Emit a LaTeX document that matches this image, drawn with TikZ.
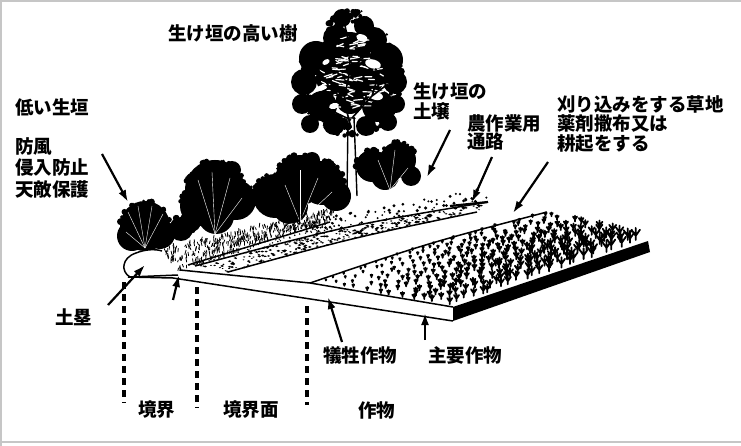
\documentclass[tikz,border=0pt]{standalone}
\usepackage{fontspec}
\setmainfont{Noto Sans CJK JP}
\usetikzlibrary{arrows.meta}

\begin{document}
\begin{tikzpicture}[x=1pt,y=-1pt,
  lbl/.style={inner sep=0pt,anchor=west,font=\fontsize{18.5}{20}\selectfont\bfseries},
  multi/.style={lbl,anchor=north west,align=left},
  pointer/.style={line width=2.2pt,-{Latex[length=12pt,width=8pt]}},
  divider/.style={line width=3.5pt,dash pattern=on 7pt off 5pt},
  edge/.style={line width=1.5pt},
  tuft/.style={line width=1.8pt,line cap=round},
  blade/.style={line width=0.8pt}]
\useasboundingbox (0,0) rectangle (741,446);
\pgfmathsetseed{7}
% frame of the scan
\draw[gray!45,line width=1.5pt] (1,446) -- (1,1) -- (741,1);
\draw[gray!45,line width=1.2pt] (0,442) -- (741,442);

% tall tree
\draw[line width=1.4pt,fill=white] (347,196) -- (348,118) -- (354,118) -- (357,196);
\fill (342,18) circle (9pt) (364,26) circle (10pt) (336,38) circle (13pt) (374,40) circle (13pt)
  (316,58) circle (17pt) (350,52) circle (20pt) (386,60) circle (17pt)
  (304,82) circle (13pt) (334,78) circle (18pt) (366,78) circle (18pt) (395,82) circle (12pt)
  (302,104) circle (10pt) (322,106) circle (15pt) (350,100) circle (14pt) (378,106) circle (16pt) (396,104) circle (9pt)
  (310,124) circle (9pt) (334,124) circle (11pt) (366,126) circle (10pt) (388,122) circle (9pt);
\foreach \k in {1,...,140}{
  \pgfmathsetmacro\ang{360*rnd}
  \pgfmathsetmacro\rr{0.8+0.25*rnd}
  \pgfmathsetmacro\ccx{351+53*\rr*cos(\ang)*(1+0.5*min(sin(\ang),0))}
  \pgfmathsetmacro\ccy{72+62*\rr*sin(\ang)}
  \pgfmathsetmacro\crad{1+3*rnd}
  \fill (\ccx,\ccy) circle (\crad pt);
}
\foreach \gx/\gy/\ga/\gb/\gr in {362/38/6/3.5/-20,373/64/8/4.5/-15,322/88/5/3/10,
  376/96/7/4/-10,334/106/5/3/15,326/62/4/2.5/30}
  \fill[white,rotate around={\gr:(\gx,\gy)}] (\gx,\gy) ellipse (\ga pt and \gb pt);
\foreach \k in {1,...,75}{
  \pgfmathsetmacro\ang{360*rnd}
  \pgfmathsetmacro\rr{0.75*sqrt(rnd)}
  \pgfmathsetmacro\ccx{351+44*\rr*cos(\ang)*(1+0.45*min(sin(\ang),0))}
  \pgfmathsetmacro\ccy{72+52*\rr*sin(\ang)}
  \pgfmathsetmacro\dx{4+5*rnd}
  \pgfmathsetmacro\dy{3*rand}
  \draw[white,line width=1.2pt,line cap=round] (\ccx,\ccy) -- ++(\dx,\dy);
}
\foreach \k in {1,...,40}{
  \pgfmathsetmacro\ccx{312+80*rnd}
  \pgfmathsetmacro\ccy{32+88*rnd}
  \pgfmathsetmacro\crad{0.8+1.2*rnd}
  \fill (\ccx,\ccy) circle (\crad pt);
}
\draw[line width=1.6pt] (351,128) -- (344,100) -- (330,88) -- (316,66)
  (344,100) -- (350,70) -- (348,40) -- (343,16) (350,70) -- (366,55) -- (374,34)
  (352,118) -- (372,96) -- (388,84) (372,96) -- (380,70) (330,88) -- (312,96)
  (351,120) -- (330,110) (366,55) -- (384,58) (348,40) -- (334,40);

% hedge shrubs
\fill (145,226) circle (25pt) (132,236) circle (15pt) (160,234) circle (15pt);
\fill (181,229) circle (12pt) (191,222) circle (10pt);
\fill (215,190) circle (30pt) (200,206) circle (20pt) (236,200) circle (20pt) (216,216) circle (18pt)
  (196,178) circle (8pt) (232,170) circle (9pt);
\fill (275,196) circle (22pt) (300,180) circle (25pt) (322,183) circle (22pt) (290,206) circle (18pt)
  (336,196) circle (15pt) (262,190) circle (9pt) (312,160) circle (8pt);
\fill (372,166) circle (16pt) (398,160) circle (18pt) (385,176) circle (14pt) (411,176) circle (10pt);
\foreach \sx/\sy/\sr in {145/226/25,181/229/12,215/190/30,200/206/20,236/200/20,
  275/196/22,300/180/25,322/183/22,372/166/16,398/160/18}{
  \foreach \k in {1,...,16}{
    \pgfmathsetmacro\ang{170+200*rnd}
    \pgfmathsetmacro\ccx{\sx+\sr*cos(\ang)}
    \pgfmathsetmacro\ccy{\sy+\sr*sin(\ang)}
    \pgfmathsetmacro\crad{1+2.5*rnd}
    \fill (\ccx,\ccy) circle (\crad pt);
  }
}
\foreach \bx/\by/\tx/\ty in {145/248/128/212,145/248/138/206,145/248/152/206,145/248/163/214,145/248/126/232,
  215/234/198/180,215/234/212/172,215/234/230/178,215/234/242/198,
  300/222/285/185,300/222/300/170,300/222/318/178,300/222/332/192,
  390/190/378/160,390/190/395/150,390/190/408/168}
  \draw[white,line width=0.4pt] (\bx,\by) -- (\tx,\ty);

% ground surface cuts the shrub bases
\fill[white] (128,252) -- (160,250) -- (185,241) -- (250,231) -- (300,222) -- (345,212)
  -- (356,197) -- (420,189) -- (500,196) -- (650,238) -- (650,253) -- (453,322) -- (128,278) -- cycle;

% earth bank
\draw[edge,fill=white] (178,275) -- (130,277) .. controls (121,272) and (121,258) .. (136,253)
  .. controls (146,249) and (156,249) .. (162,251);

% grass strip
\foreach \k in {1,...,420}{
  \pgfmathsetmacro\uvar{rnd}
  \pgfmathsetmacro\wvar{rnd}
  \pgfmathsetmacro\gx{160+175*\uvar+\wvar*(18-23*\uvar)}
  \pgfmathsetmacro\gy{250-40*\uvar+\wvar*(22-10*\uvar)}
  \pgfmathsetmacro\dx{1.5*rand}
  \pgfmathsetmacro\dy{-2-3*rnd}
  \draw[blade] (\gx,\gy) -- ++(\dx,\dy);
}
% strip between grass and path
\foreach \k in {1,...,60}{
  \pgfmathsetmacro\uvar{rnd}
  \pgfmathsetmacro\wvar{rnd}
  \pgfmathsetmacro\gx{188+142*\uvar+\wvar*(7-7*\uvar)}
  \pgfmathsetmacro\gy{265-43*\uvar+\wvar*(1+10*\uvar)}
  \fill (\gx,\gy) circle (0.8pt);
}
% soil of the hedge
\foreach \k in {1,...,85}{
  \pgfmathsetmacro\uvar{rnd}
  \pgfmathsetmacro\wvar{0.2+0.8*rnd}
  \pgfmathsetmacro\gx{300+188*\uvar+\wvar*(-3*\uvar)}
  \pgfmathsetmacro\gy{241-39*\uvar+\wvar*(-19+5*\uvar)}
  \pgfmathsetmacro\dr{0.8+1*rnd}
  \fill (\gx,\gy) circle (\dr pt);
}
% farm path
\foreach \k in {1,...,300}{
  \pgfmathsetmacro\uvar{rnd}
  \pgfmathsetmacro\wvar{rnd}
  \pgfmathsetmacro\ka{(1-\uvar)^3}
  \pgfmathsetmacro\kb{3*\uvar*(1-\uvar)}
  \pgfmathsetmacro\kc{\uvar^3}
  \pgfmathsetmacro\ax{\ka*195+\kb*345+\kc*488}
  \pgfmathsetmacro\ay{\ka*266+\kb*226+\kc*202}
  \pgfmathsetmacro\qx{\ka*228+\kb*352+\kc*477}
  \pgfmathsetmacro\qy{\ka*272+\kb*238+\kc*212}
  \pgfmathsetmacro\dr{0.5+0.6*rnd}
  \fill ({\ax+\wvar*(\qx-\ax)},{\ay+\wvar*(\qy-\ay)}) ellipse ({1.8*\dr pt} and \dr pt);
}
\draw[edge] (188,265) -- (330,222);
\draw[edge] (195,266) .. controls (345,226) .. (488,202);
\draw[line width=2.2pt] (450,206) -- (488,202);
\draw[edge] (228,272) .. controls (352,238) .. (477,212);
\draw[edge] (310,283) .. controls (428.5,243) .. (547,212);

% main crop field
\foreach \i in {0,...,11}{
  \foreach \j in {0,...,25}{
    \pgfmathsetmacro\svar{(\i+0.5+0.35*rand)/12.4}
    \pgfmathsetmacro\tvar{(\j+0.5+0.35*rand)/26}
    \pgfmathsetmacro\ka{(1-\tvar)^3}
    \pgfmathsetmacro\kb{3*\tvar*(1-\tvar)}
    \pgfmathsetmacro\kc{\tvar^3}
    \pgfmathsetmacro\lx{\ka*310+\kb*428.5+\kc*547}
    \pgfmathsetmacro\ly{\ka*283+\kb*243+\kc*212}
    \pgfmathsetmacro\rx{453+195*\tvar}
    \pgfmathsetmacro\ry{307-65*\tvar}
    \pgfmathsetmacro\px{\lx+\svar*(\rx-\lx)}
    \pgfmathsetmacro\py{\ly+\svar*(\ry-\ly)}
    \pgfmathsetmacro\hgt{1.2+6*\svar+4.5*\tvar*\svar+1.5*\tvar}
    \draw[tuft] (\px,\py) -- ++(0,-\hgt)
      (\px,\py-0.35*\hgt) -- ++(-0.35*\hgt,-0.5*\hgt)
      (\px,\py-0.35*\hgt) -- ++(0.35*\hgt,-0.5*\hgt);
  }
}

% front and side of the ground
\draw[edge] (180,270) -- (310,283) -- (453,307);
\draw[edge] (128,277) -- (173,278) -- (330,302) -- (453,321);
\fill (453,307) -- (648,241) -- (650,252) -- (453,321) -- cycle;

% labels
\node[lbl] (tallTree) at (168,33) {生け垣の高い樹};
\node[lbl] (lowHedge) at (15,107) {低い生垣};
\node[multi,font=\fontsize{18.5}{21.5}\selectfont\bfseries] (purpose) at (15,137) {防風\\侵入防止\\天敵保護};
\node[multi] (hedgeSoil) at (413,82) {生け垣の\\土壌};
\node[multi,font=\fontsize{18.5}{18}\selectfont\bfseries] (farmPath) at (467,114) {農作業用\\通路};
\node[multi,font=\fontsize{18.5}{19.5}\selectfont\bfseries] (mownStrip) at (557,95) {刈り込みをする草地\\薬剤撒布又は\\耕起をする};
\node[lbl] (bank) at (55,317) {土塁};
\node[lbl] (sacrifice) at (323,355) {犠牲作物};
\node[lbl] (mainCrop) at (428,355) {主要作物};
\node[lbl] (border) at (138,410) {境界};
\node[lbl] (borderZone) at (223,410) {境界面};
\node[lbl] (cropZone) at (358,410) {作物};

% pointers
\coordinate (hedgeTail) at (102,154);   \coordinate (hedgeTip) at (128,202);
\coordinate (bankTail) at (108,305);    \coordinate (bankTip) at (145,265);
\coordinate (edgeTail) at (173,300);    \coordinate (edgeTip) at (179,275);
\coordinate (soilTail) at (450,130);    \coordinate (soilTip) at (427,177);
\coordinate (pathTail) at (492,157);    \coordinate (pathTip) at (472,202);
\coordinate (mownTail) at (548,162);    \coordinate (mownTip) at (513,213);
\coordinate (sacTail) at (342,342);     \coordinate (sacTip) at (328,297);
\coordinate (mainTail) at (425,340);    \coordinate (mainTip) at (425,313);
\draw[pointer] (hedgeTail) -- (hedgeTip);
\draw[pointer] (bankTail) -- (bankTip);
\draw[pointer] (edgeTail) -- (edgeTip);
\draw[pointer] (soilTail) -- (soilTip);
\draw[pointer] (pathTail) -- (pathTip);
\draw[pointer] (mownTail) -- (mownTip);
\draw[pointer] (sacTail) -- (sacTip);
\draw[pointer] (mainTail) -- (mainTip);

% zone dividers
\coordinate (div1a) at (124,282); \coordinate (div1b) at (124,403);
\coordinate (div2a) at (197,287); \coordinate (div2b) at (197,408);
\coordinate (div3a) at (307,306); \coordinate (div3b) at (307,405);
\draw[divider] (div1a) -- (div1b);
\draw[divider] (div2a) -- (div2b);
\draw[divider] (div3a) -- (div3b);
\end{tikzpicture}
\end{document}
